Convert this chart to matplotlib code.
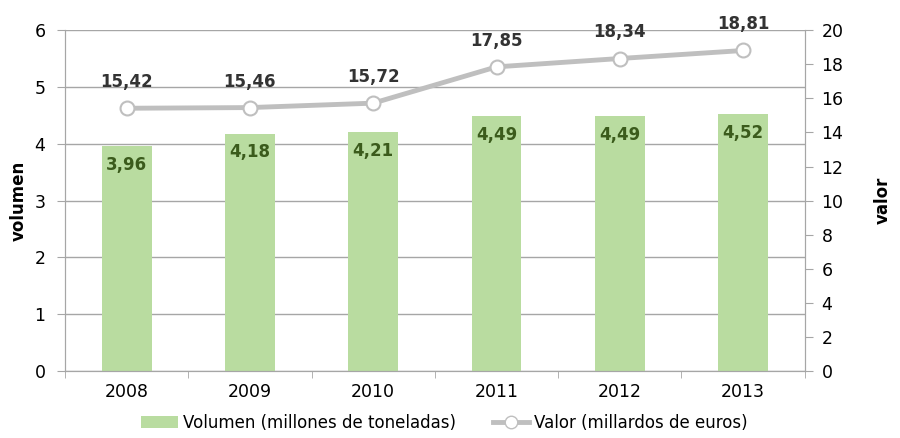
import matplotlib
matplotlib.use("Agg")
import matplotlib.pyplot as plt
from matplotlib.lines import Line2D
from matplotlib.patches import Patch

years = ["2008", "2009", "2010", "2011", "2012", "2013"]
volumen = [3.96, 4.18, 4.21, 4.49, 4.49, 4.52]
valor = [15.42, 15.46, 15.72, 17.85, 18.34, 18.81]

BAR = "#B9DCA0"
LINE = "#BFBFBF"
GRID = "#A6A6A6"


def coma(v):
    return f"{v:.2f}".replace(".", ",")


plt.rcParams["font.family"] = ["DejaVu Sans"]
fig = plt.figure(figsize=(9, 4.38), dpi=100)
ax = fig.add_axes([0.0722, 0.153, 0.822, 0.778])
ax2 = ax.twinx()

x = list(range(len(years)))
ax.bar(x, volumen, width=0.405, color=BAR, zorder=2)
for xi, v in zip(x, volumen):
    ax.text(xi, v - 0.17, coma(v), ha="center", va="top", fontsize=12,
            fontweight="bold", color="#3B5B1C", zorder=3)

ax.set_xlim(-0.5, len(years) - 0.5)
ax.set_ylim(0, 6)
ax.set_yticks(range(7))
ax.yaxis.grid(True, color=GRID, linewidth=1)
ax.set_axisbelow(True)
ax.set_xticks(x)
ax.set_xticklabels(years)
ax.set_xticks([i - 0.5 for i in range(len(years) + 1)], minor=True)
ax.tick_params(axis="x", which="major", length=0, pad=9, labelsize=12.5)
ax.tick_params(axis="x", which="minor", length=5, color=GRID)
ax.tick_params(axis="y", length=6, color=GRID, labelsize=12.5, pad=8)
ax.set_ylabel("volumen", fontsize=12, fontweight="bold", labelpad=5)

ax2.plot(x, valor, color=LINE, linewidth=3.5, marker="o", markersize=10,
         markerfacecolor="white", markeredgecolor=LINE, markeredgewidth=1.5,
         zorder=4)
for xi, v in zip(x, valor):
    ax2.text(xi, v + 1.0, coma(v), ha="center", va="bottom", fontsize=12,
             fontweight="bold", color="#333333")
ax2.set_ylim(0, 20)
ax2.set_yticks(range(0, 21, 2))
ax2.tick_params(axis="y", length=6, color=GRID, labelsize=12.5, pad=6)
ax2.set_ylabel("valor", fontsize=12, fontweight="bold", labelpad=22)

for a in (ax, ax2):
    a.spines["top"].set_visible(False)
    for s in ("left", "right", "bottom"):
        a.spines[s].set_color(GRID)

handles = [
    Patch(facecolor=BAR, edgecolor="none", label="Volumen (millones de toneladas)"),
    Line2D([0], [0], color=LINE, linewidth=3.5, marker="o", markersize=9,
           markerfacecolor="white", markeredgecolor=LINE,
           label="Valor (millardos de euros)"),
]
fig.legend(handles=handles, loc="lower center", bbox_to_anchor=(0.494, -0.02),
           ncol=2, frameon=False, fontsize=12, handlelength=2.2,
           handletextpad=0.3, columnspacing=2.2)

fig.savefig("out.png", dpi=100)
